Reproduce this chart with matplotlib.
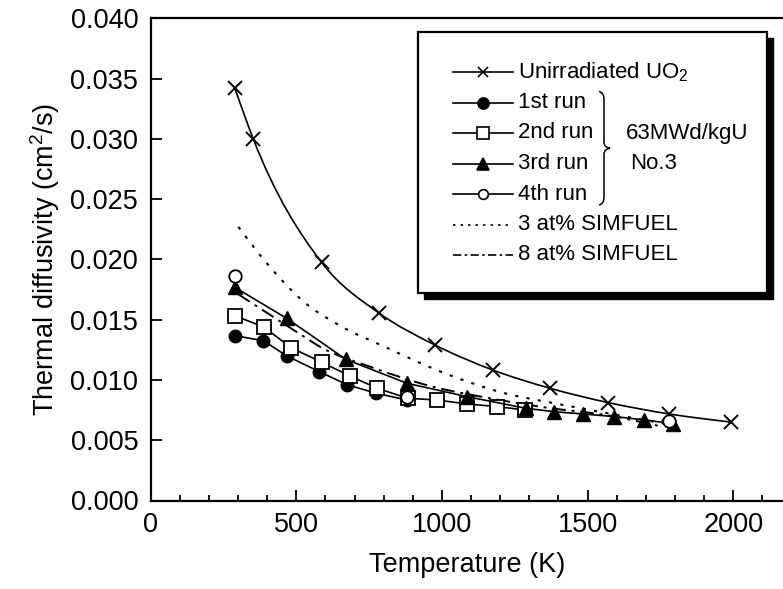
import numpy as np
import matplotlib
matplotlib.use("Agg")
import matplotlib.pyplot as plt
from matplotlib.path import Path
from matplotlib.patches import PathPatch, Rectangle
from matplotlib.lines import Line2D
from matplotlib.ticker import FormatStrFormatter, MultipleLocator

plt.rcParams["font.family"] = ["Liberation Sans", "DejaVu Sans"]
plt.rcParams["mathtext.fontset"] = "custom"
plt.rcParams["mathtext.rm"] = "Liberation Sans"
plt.rcParams["mathtext.it"] = "Liberation Sans:italic"

# ---- data (T in K, diffusivity in cm^2/s) ----
t_unirr = [289, 352, 587, 785, 976, 1174, 1371, 1571, 1780, 1994]
d_unirr = [0.0342, 0.0300, 0.01975, 0.01553, 0.0129, 0.01083, 0.00931, 0.00812, 0.00718, 0.0065]

t_run1 = [289, 387, 467, 579, 675, 774, 879]
d_run1 = [0.01367, 0.01326, 0.01199, 0.01069, 0.00959, 0.0089, 0.00834]

t_run2 = [289, 390, 481, 587, 684, 778, 882, 982, 1085, 1190, 1285]
d_run2 = [0.01533, 0.01437, 0.01268, 0.01147, 0.01033, 0.00931, 0.00848, 0.00834, 0.00801, 0.00779, 0.00751]

t_run3 = [289, 467, 670, 879, 1085, 1288, 1384, 1483, 1592, 1695, 1794]
d_run3 = [0.01768, 0.01511, 0.01171, 0.00973, 0.00862, 0.00765, 0.00737, 0.00718, 0.00696, 0.00669, 0.00636]

t_run4 = [289, 879, 1780]
d_run4 = [0.0186, 0.0086, 0.0066]

t_sim3 = [301, 398, 530, 650, 799, 1005, 1200, 1400, 1600, 1780]
d_sim3 = [0.0227, 0.0197, 0.0164, 0.0145, 0.0128, 0.0106, 0.0090, 0.0080, 0.0071, 0.0063]

t_sim8 = [301, 410, 500, 593, 753, 959, 1160, 1360, 1560, 1760]
d_sim8 = [0.0171, 0.0154, 0.0140, 0.0126, 0.0111, 0.0095, 0.0085, 0.0077, 0.0071, 0.0061]

W, H = 783, 589


def smooth_path(xs, ys):
    """Hermite curve through the points (slopes from neighbouring secants), as Beziers."""
    x = np.asarray(xs, float)
    y = np.asarray(ys, float)
    h = np.diff(x)
    d = np.diff(y) / h
    m = np.empty_like(x)
    m[1:-1] = (h[1:] * d[:-1] + h[:-1] * d[1:]) / (h[:-1] + h[1:])
    m[0] = (3 * d[0] - m[1]) / 2
    m[-1] = (3 * d[-1] - m[-2]) / 2
    verts = [(x[0], y[0])]
    codes = [Path.MOVETO]
    for i in range(len(x) - 1):
        dx = h[i] / 3
        verts += [(x[i] + dx, y[i] + m[i] * dx),
                  (x[i + 1] - dx, y[i + 1] - m[i + 1] * dx),
                  (x[i + 1], y[i + 1])]
        codes += [Path.CURVE4] * 3
    return Path(verts, codes)


def fx(px):
    return px / W


def fy(py):
    return 1 - py / H


fig = plt.figure(figsize=(W / 100, H / 100), dpi=100)
ax = fig.add_axes([fx(150.7), fy(500.5), 1 - fx(150.7), fy(18.3) - fy(500.5)])

lw = 1.2
ax.add_patch(PathPatch(smooth_path(t_unirr, d_unirr), fill=False, lw=lw, ec="k"))
ax.plot(t_unirr, d_unirr, ls="none", marker="x", ms=10, mew=1.4, color="k")

ax.plot(t_run1, d_run1, "-o", color="k", lw=lw, ms=9, mfc="k")
ax.plot(t_run2, d_run2, "-s", color="k", lw=lw, ms=10, mfc="white", mew=1.3)
ax.plot(t_run3, d_run3, "-^", color="k", lw=lw, ms=10, mfc="k")
ax.plot(t_run4, d_run4, ls="none", marker="o", color="k", ms=9, mfc="white", mew=1.3)

ax.add_patch(PathPatch(smooth_path(t_sim3, d_sim3), fill=False, lw=1.5, ec="k",
                       ls=(0, (1.5, 4))))
ax.add_patch(PathPatch(smooth_path(t_sim8, d_sim8), fill=False, lw=1.4, ec="k",
                       ls=(0, (7, 3, 1.5, 3))))

ax.set_xlim(0, (W - 150.7) / 0.29125)
ax.set_ylim(0, 0.040)
ax.xaxis.set_major_locator(MultipleLocator(500))
ax.xaxis.set_minor_locator(MultipleLocator(100))
ax.yaxis.set_major_locator(MultipleLocator(0.005))
ax.yaxis.set_major_formatter(FormatStrFormatter("%.3f"))
ax.tick_params(which="both", direction="in", width=1.3, labelsize=19.5)
ax.tick_params(which="major", length=8)
ax.tick_params(which="minor", length=4)
ax.tick_params(axis="y", pad=9)
ax.tick_params(axis="x", pad=8)
for s in ("left", "bottom", "top"):
    ax.spines[s].set_linewidth(1.6)
ax.spines["right"].set_visible(False)

ax.set_xlabel("Temperature (K)", fontsize=19.5, labelpad=10)
ax.set_ylabel("Thermal diffusivity (cm$^2$/s)", fontsize=19.5, labelpad=6)

# ---- hand-drawn legend with drop shadow ----
bx0, by0, bx1, by1 = 418, 32, 767, 293
sh = 6
fig.add_artist(Rectangle((fx(bx0 + sh), fy(by1 + sh)), fx(bx1 - bx0), fy(by0) - fy(by1),
                         transform=fig.transFigure, fc="k", ec="k", zorder=5))
fig.add_artist(Rectangle((fx(bx0), fy(by1)), fx(bx1 - bx0), fy(by0) - fy(by1),
                         transform=fig.transFigure, fc="white", ec="k", lw=1.6, zorder=6))

labels = ["Unirradiated UO$_2$", "1st run", "2nd run", "3rd run", "4th run",
          "3 at% SIMFUEL", "8 at% SIMFUEL"]
markers = ["x", "o", "s", "^", "o", None, None]
faces = ["k", "k", "white", "k", "white", None, None]
msizes = [7, 8, 8, 8, 7, 0, 0]
lstyles = ["-", "-", "-", "-", "-", (0, (1.5, 3)), (0, (5, 2, 1.5, 2))]
row0, step = 72, 30.5
for i, lab in enumerate(labels):
    y = fy(row0 + i * step)
    fig.add_artist(Line2D([fx(453), fx(513)], [y, y], transform=fig.transFigure,
                          color="k", lw=1.2, ls=lstyles[i], zorder=7))
    if markers[i]:
        fig.add_artist(Line2D([fx(483)], [y], transform=fig.transFigure, ls="none",
                              marker=markers[i], ms=msizes[i], mfc=faces[i], mec="k",
                              mew=1.2, color="k", zorder=8))
    fig.text(fx(518), y, lab, fontsize=16, va="center", ha="left", zorder=8)

# brace grouping the four runs
top, bot = row0 + step - 11, row0 + 4 * step + 11
mid = (top + bot) / 2
bx = 604
verts = [(bx - 5, top), (bx, top + 1), (bx, top + 8), (bx, mid - 6), (bx, mid - 1),
         (bx + 6, mid), (bx, mid + 1), (bx, mid + 6), (bx, bot - 8), (bx, bot - 1),
         (bx - 5, bot)]
codes = [Path.MOVETO, Path.CURVE3, Path.CURVE3, Path.LINETO, Path.CURVE3, Path.CURVE3,
         Path.CURVE3, Path.CURVE3, Path.LINETO, Path.CURVE3, Path.CURVE3]
brace = Path([(fx(a), fy(b)) for a, b in verts], codes)
fig.add_artist(PathPatch(brace, fill=False, lw=1.1, ec="k", transform=fig.transFigure, zorder=8))
fig.text(fx(626), fy(row0 + 2 * step), "63MWd/kgU", fontsize=16, va="center", zorder=8)
fig.text(fx(630), fy(row0 + 3 * step), "No.3", fontsize=16, va="center", zorder=8)

fig.savefig("out.png", dpi=100)
